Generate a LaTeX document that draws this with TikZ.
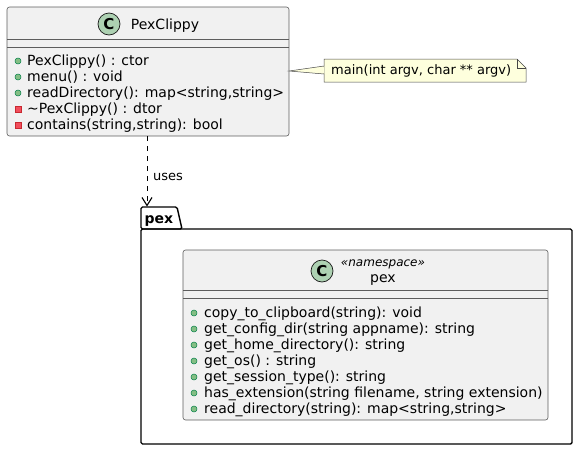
\documentclass[tikz,border=0pt]{standalone}
\usepackage{fontspec}
\setmainfont{DejaVu Sans}
\usetikzlibrary{arrows.meta}
\definecolor{classbg}{HTML}{F1F1F1}
\definecolor{classline}{HTML}{181818}
\definecolor{circC}{HTML}{ADD1B2}
\definecolor{pubfill}{HTML}{84BE84}
\definecolor{publine}{HTML}{038048}
\definecolor{privfill}{HTML}{F24D5C}
\definecolor{privline}{HTML}{C82930}
\definecolor{notebg}{HTML}{FEFFDD}
\tikzset{
  classbox/.style={draw=classline!70, fill=classbg, line width=0.6pt, rounded corners=2.5pt},
  member/.style={anchor=base west, inner sep=0pt, font=\fontsize{14}{14}\selectfont, text=black},
  pub/.style={draw=publine, fill=pubfill, line width=0.5pt},
  priv/.style={draw=privline, fill=privfill, line width=0.5pt},
  ccircle/.style={circle, draw=classline, fill=circC, line width=0.7pt, minimum size=22pt, inner sep=0pt, font=\fontsize{15}{15}\selectfont\bfseries},
  titletext/.style={anchor=base, inner sep=0pt, font=\fontsize{14}{14}\selectfont},
}
\begin{document}
\begin{tikzpicture}[x=1pt,y=-1pt]
\useasboundingbox (0,0) rectangle (578,450);
% PexClippy class
\draw[classbox] (7,7) rectangle (289,136);
\draw[classline!70, line width=0.6pt] (7,39) -- (289,39);
\draw[classline!70, line width=0.6pt] (7,47) -- (289,47);
\node[ccircle] (c1) at (109,24) {C};
\node[titletext] (t1) at (165,29) {PexClippy};
\coordinate (pc1) at (147,136);
\coordinate (pcr) at (289,71);
\fill[pub] (18,61) circle (3);
\node[member] (m1) at (27,65) {PexClippy() : ctor};
\fill[pub] (18,77) circle (3);
\node[member] (m2) at (27,81.1) {menu() : void};
\fill[pub] (18,93) circle (3);
\node[member] (m3) at (27,97.2) {readDirectory(): map<string,string>};
\filldraw[priv] (15,106) rectangle (21,112);
\node[member] (m4) at (27,113.3) {\char"007E PexClippy() : dtor};
\filldraw[priv] (15,122) rectangle (21,128);
\node[member] (m5) at (27,129.4) {contains(string,string): bool};
% note
\coordinate (n1) at (324,66);
\coordinate (n2) at (324,74);
\filldraw[draw=classline!80, fill=notebg, line width=0.5pt] (pcr) -- (n1) -- (n2) -- cycle;
\filldraw[draw=classline!80, fill=notebg, line width=0.5pt] (324,59) -- (517,59) -- (526,68) -- (526,82) -- (324,82) -- cycle;
\draw[classline!80, line width=0.5pt] (517,59) -- (517,68) -- (526,68);
\fill[notebg] (324.3,66.3) -- (324.3,73.7) -- (320,70.5) -- cycle;
\node[anchor=base west, inner sep=0pt, font=\fontsize{13}{13}\selectfont] (note) at (331,74.5) {main(int argv, char ** argv)};
% package
\draw[black, line width=1.4pt, rounded corners=1.5pt] (141,229) -- (141,207) -- (177,207) -- (182,229) -- cycle;
\draw[black, line width=1.4pt, rounded corners=1.5pt] (141,229) -- (572,229) -- (572,444) -- (141,444) -- cycle;
\node[anchor=base west, inner sep=0pt, font=\fontsize{14}{14}\selectfont\bfseries] (pkg) at (144.5,223.5) {pex};
\coordinate (pkgtop) at (147,206.5);
% uses arrow
\draw[black, line width=0.8pt, dash pattern=on 5pt off 5pt, -{Straight Barb[length=8pt,width=10pt,line width=1.1pt]}] (pc1) -- (pkgtop);
\node[anchor=base west, inner sep=0pt, font=\fontsize{13}{13}\selectfont] (uses) at (153,180) {uses};
% pex class
\draw[classbox] (183,250) rectangle (548,420);
\draw[classline!70, line width=0.6pt] (183,290) -- (548,290);
\draw[classline!70, line width=0.6pt] (183,298) -- (548,298);
\node[ccircle] (c2) at (322,271) {C};
\node[anchor=base, inner sep=0pt, font=\fontsize{12}{12}\selectfont\itshape] (st) at (383,266) {«namespace»};
\node[titletext] (t2) at (383,282) {pex};
\fill[pub] (194,313) circle (3);
\node[member] (p1) at (204,317) {copy\_to\_clipboard(string): void};
\fill[pub] (194,329) circle (3);
\node[member] (p2) at (204,333.2) {get\_config\_dir(string appname): string};
\fill[pub] (194,345) circle (3);
\node[member] (p3) at (204,349.3) {get\_home\_directory(): string};
\fill[pub] (194,361) circle (3);
\node[member] (p4) at (204,365.4) {get\_os() : string};
\fill[pub] (194,377) circle (3);
\node[member] (p5) at (204,381.5) {get\_session\_type(): string};
\fill[pub] (194,393) circle (3);
\node[member] (p6) at (204,397.6) {has\_extension(string filename, string extension)};
\fill[pub] (194,409) circle (3);
\node[member] (p7) at (204,413.7) {read\_directory(string): map<string,string>};
\end{tikzpicture}
\end{document}
